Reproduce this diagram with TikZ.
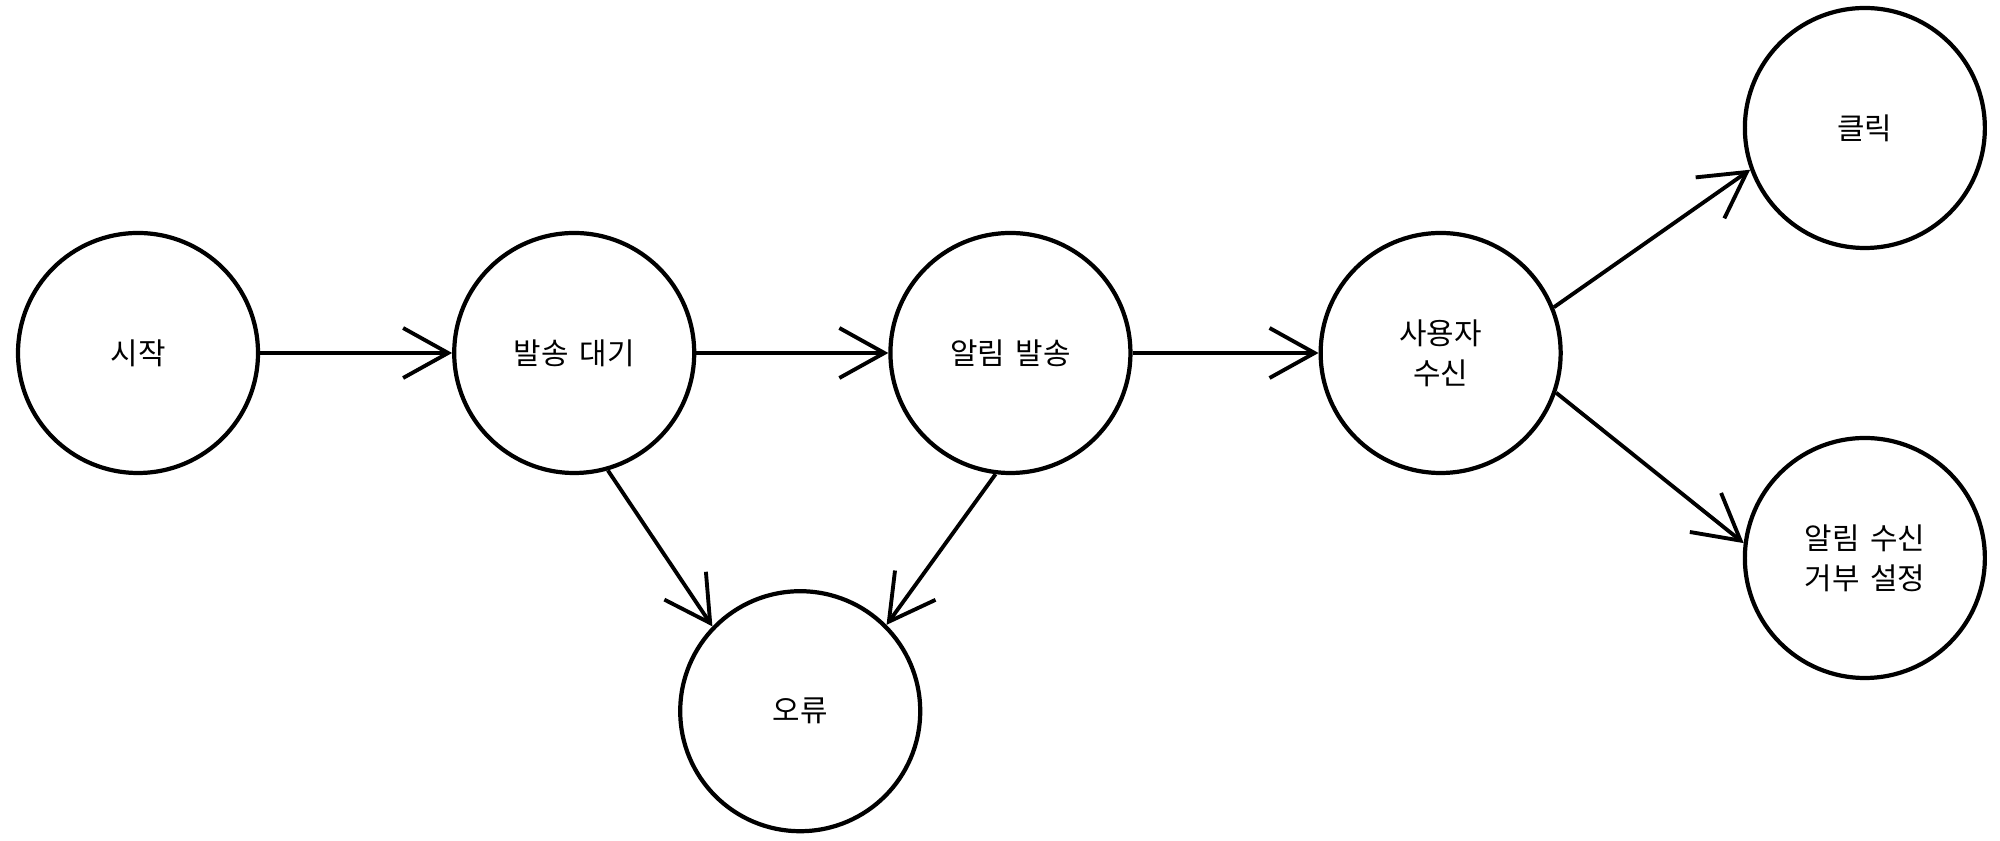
\documentclass[tikz,border=0pt]{standalone}
\usepackage{fontspec}
\setmainfont[WordSpace=1.6]{Noto Sans CJK KR}
\usepackage{tikz}
\usetikzlibrary{arrows.meta, positioning}

\begin{document}
\begin{tikzpicture}[
    node distance=1.92cm,
    state/.style={circle, draw, line width=1.2pt, minimum size=2.4cm, inner sep=0pt, align=center, font=\fontsize{8.5pt}{11.3pt}\selectfont},
    arrow/.style={-{Straight Barb[length=4.5mm, width=5mm, line width=1.1pt]}, line width=1.1pt}
]

\useasboundingbox (0,0) rectangle (20,-8.41);

\node[state] (start) at (1.38,-3.53) {시작};
\node[state, right=of start] (wait) {발송 대기};
\node[state, right=of wait] (send) {알림 발송};
\node[state, right=1.86cm of send] (user) {사용자\\수신};
\node[state, right=1.8cm of user, yshift=2.25cm] (click) {클릭};
\node[state, right=1.8cm of user, yshift=-2.05cm] (reject) {알림 수신\\거부 설정};
\node[state, below=1.14cm of wait, xshift=2.26cm] (error) {오류};

\draw[arrow] (start) -- (wait);
\draw[arrow] (wait) -- (send);
\draw[arrow] (send) -- (user);
\draw[arrow] (user.22) -- (click.200);
\draw[arrow] (user.-19) -- (reject.173);
\draw[arrow] (wait.-74) -- (error.136);
\draw[arrow] (send.-97) -- (error.45);

\end{tikzpicture}
\end{document}
